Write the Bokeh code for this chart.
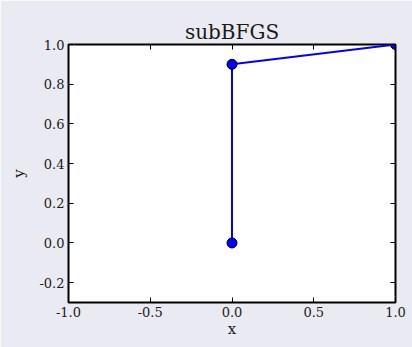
from bokeh.plotting import figure
from bokeh.models import Range1d, FixedTicker, LinearAxis, NumeralTickFormatter, BoxAnnotation
from bokeh.embed import file_html
from bokeh.resources import INLINE

xs = [0.0, 0.0, 1.0]
ys = [0.0, 0.9, 1.0]
x_ticks = [-1.0, -0.5, 0.0, 0.5, 1.0]
y_ticks = [-0.2, 0.0, 0.2, 0.4, 0.6, 0.8, 1.0]
title_text = "subBFGS"

FONT = "DejaVu Serif"
BG = "#EAEAF2"

p = figure(width=412, height=347, output_backend="svg", toolbar_location=None,
           x_range=Range1d(-1.0, 1.0), y_range=Range1d(-0.3, 1.0),
           min_border_left=68, min_border_right=17, min_border_top=44, min_border_bottom=45,
           background_fill_color="white", border_fill_color=BG, title=title_text)

p.title.align = "center"
p.title.text_font = FONT
p.title.text_font_size = "20px"
p.title.text_font_style = "normal"
p.title.text_color = "#1a1a1a"
p.title.offset = 0
p.title.standoff = 1

p.outline_line_color = "black"
p.outline_line_width = 2
p.xgrid.visible = False
p.ygrid.visible = False

def style_axis(ax, ticks, show_labels=True):
    ax.ticker = FixedTicker(ticks=ticks)
    ax.formatter = NumeralTickFormatter(format="0.0")
    ax.major_tick_in = 5
    ax.major_tick_out = 0
    ax.major_tick_line_color = "black"
    ax.major_tick_line_width = 1
    ax.minor_tick_line_color = None
    ax.axis_line_color = None
    ax.major_label_text_font = FONT
    ax.major_label_text_font_size = "13px"
    ax.major_label_text_color = "#1a1a1a" if show_labels else None
    ax.major_label_standoff = 4
    ax.axis_label_text_font = FONT
    ax.axis_label_text_font_size = "15px"
    ax.axis_label_text_font_style = "normal"
    ax.axis_label_text_color = "#1a1a1a"

style_axis(p.xaxis[0], x_ticks)
style_axis(p.yaxis[0], y_ticks)
p.xaxis.axis_label = "x"
p.yaxis.axis_label = "y"
p.xaxis.axis_label_standoff = 0
p.yaxis.axis_label_standoff = 8

top_ax = LinearAxis()
style_axis(top_ax, x_ticks, show_labels=False)
top_ax.major_label_standoff = 0
top_ax.major_label_text_font_size = "1px"
p.add_layout(top_ax, "above")
right_ax = LinearAxis()
style_axis(right_ax, y_ticks, show_labels=False)
right_ax.major_label_standoff = 0
right_ax.major_label_text_font_size = "1px"
p.add_layout(right_ax, "right")

p.line(xs, ys, line_color="blue", line_width=2)
p.scatter(xs, ys, size=10, fill_color="blue", line_color="black", line_width=1)

edge = BoxAnnotation(left=6, right=420, top=6, bottom=360,
                     left_units="screen", right_units="screen", top_units="screen", bottom_units="screen",
                     fill_color=None, line_color="#F8F8FB", line_width=1, level="underlay")
p.add_layout(edge)

open("out.html", "w").write(file_html(p, INLINE))
